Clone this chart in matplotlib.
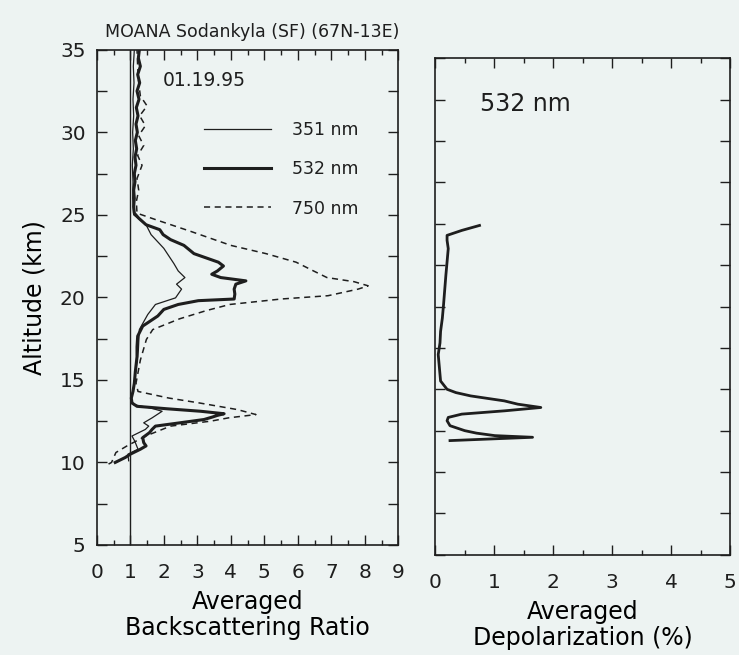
import matplotlib
matplotlib.use("Agg")
import matplotlib.pyplot as plt
from matplotlib.ticker import MultipleLocator

# altitude (km) / backscattering ratio
alt_351 = [10.1, 10.5, 10.8, 11.3, 11.6, 11.8, 12.0, 12.2, 12.4, 12.7, 13.1, 13.3, 13.5, 13.8,
           14.8, 16.8, 18.05, 18.96, 19.57, 19.97, 20.5, 20.8, 21.2, 21.6, 22.05, 22.97,
           23.8, 24.4, 25.0, 26.0, 27.0, 28.0, 29.0, 30.0, 31.0, 32.0, 33.0, 34.0, 35.0]
bsr_351 = [0.95, 0.93, 1.23, 1.13, 1.05, 1.25, 1.45, 1.55, 1.40, 1.65, 1.95, 1.60, 1.10, 1.03,
           1.12, 1.24, 1.27, 1.52, 1.75, 2.35, 2.53, 2.38, 2.63, 2.43, 2.30, 2.00,
           1.62, 1.47, 1.10, 1.07, 1.08, 1.06, 1.09, 1.07, 1.10, 1.08, 1.11, 1.09, 1.12]

alt_532 = [10.0, 10.3, 10.5, 10.8, 11.0, 11.2, 11.5, 11.8, 12.0, 12.2, 12.4, 12.6, 12.75,
           12.85, 12.95, 13.1, 13.25, 13.4, 13.6, 13.9, 14.3, 14.8, 15.5, 16.4, 17.0, 17.65,
           18.26, 18.87, 19.27, 19.57, 19.8, 19.9, 20.2, 20.5, 20.8, 21.0, 21.2, 21.4, 21.6,
           21.9, 22.13, 22.65, 23.15, 23.5, 23.8, 24.1, 24.4, 24.8, 25.1, 25.5, 26.0, 26.5,
           27.0, 27.5, 28.0, 28.5, 29.0, 29.5, 30.0, 30.5, 31.0, 31.5, 32.0, 32.5, 33.0,
           33.5, 34.0, 34.5, 35.0]
bsr_532 = [0.55, 0.85, 1.00, 1.30, 1.47, 1.40, 1.37, 1.57, 1.65, 1.75, 2.48, 3.20, 3.45,
           3.60, 3.80, 3.10, 2.10, 1.20, 1.05, 1.03, 1.08, 1.12, 1.15, 1.20, 1.20, 1.22,
           1.37, 1.82, 2.00, 2.43, 3.03, 4.10, 4.12, 4.10, 4.15, 4.45, 3.70, 3.43, 3.60,
           3.78, 3.63, 2.90, 2.60, 2.20, 1.98, 1.88, 1.47, 1.25, 1.12, 1.10, 1.12, 1.10,
           1.14, 1.12, 1.17, 1.14, 1.19, 1.15, 1.21, 1.17, 1.23, 1.18, 1.26, 1.20, 1.28,
           1.22, 1.30, 1.24, 1.27]

alt_750 = [9.9, 10.0, 10.6, 11.0, 11.6, 12.2, 12.5, 12.7, 12.9, 13.2, 13.6, 13.9, 14.3,
           14.8, 16.2, 17.45, 18.05, 18.7, 19.2, 19.57, 19.9, 20.1, 20.5, 20.7, 20.95,
           21.2, 21.6, 22.13, 22.65, 23.15, 24.0, 24.7, 25.1, 25.8, 26.5, 27.2, 28.0,
           28.6, 29.2, 29.8, 30.4, 31.0, 31.6, 32.2, 33.0, 34.0, 35.0]
bsr_750 = [0.35, 0.44, 0.57, 0.90, 1.46, 2.20, 3.40, 3.93, 4.75, 4.20, 3.07, 2.15, 1.23,
           1.17, 1.30, 1.48, 1.67, 2.47, 3.27, 3.97, 5.50, 6.90, 7.80, 8.10, 7.68,
           6.87, 6.47, 5.95, 5.05, 4.00, 2.80, 1.77, 1.20, 1.18, 1.25, 1.20, 1.35,
           1.22, 1.40, 1.25, 1.45, 1.28, 1.50, 1.30, 1.25, 1.22, 1.20]

# altitude (km) / depolarization (%) at 532 nm
alt_dep = [11.9, 12.0, 12.1, 12.2, 12.35, 12.5, 12.8, 13.1, 13.3, 13.5, 13.7, 13.9, 14.1,
           14.3, 14.6, 14.8, 15.0, 15.5, 16.3, 17.1, 17.8, 18.5, 19.3, 20.1, 21.0, 21.9,
           22.7, 23.5, 24.0, 24.3, 24.6, 24.9]
dep_532 = [0.25, 0.95, 1.65, 1.01, 0.70, 0.50, 0.25, 0.20, 0.22, 0.45, 1.18, 1.79, 1.40,
           1.17, 0.60, 0.35, 0.20, 0.09, 0.07, 0.05, 0.08, 0.09, 0.12, 0.14, 0.16, 0.18,
           0.20, 0.22, 0.20, 0.20, 0.45, 0.75]

bg = '#edf3f2'
ink = '#1e1e1e'

plt.rcParams['font.family'] = ['DejaVu Sans']
plt.rcParams['text.color'] = ink

fig = plt.figure(figsize=(7.39, 6.55), dpi=100, facecolor=bg)
ax1 = fig.add_axes([0.131, 0.168, 0.408, 0.756], facecolor=bg)
ax2 = fig.add_axes([0.589, 0.153, 0.399, 0.758], facecolor=bg)

# --- left: backscattering ratio ---
ax1.axvline(1, color=ink, lw=1.0)
ax1.plot(bsr_351, alt_351, color=ink, lw=0.9, label='351 nm')
ax1.plot(bsr_532, alt_532, color=ink, lw=2.2, label='532 nm')
ax1.plot(bsr_750, alt_750, color=ink, lw=1.1, ls=(0, (4, 3)), label='750 nm')
ax1.set_xlim(0, 9)
ax1.set_ylim(5, 35)
ax1.xaxis.set_major_locator(MultipleLocator(1))
ax1.xaxis.set_minor_locator(MultipleLocator(0.5))
ax1.yaxis.set_major_locator(MultipleLocator(5))
ax1.yaxis.set_minor_locator(MultipleLocator(2.5))
ax1.set_xlabel('Averaged\nBackscattering Ratio', fontsize=17, labelpad=6, linespacing=1.1)
ax1.set_ylabel('Altitude (km)', fontsize=17, labelpad=10)
ax1.text(0.22, 0.937, '01.19.95', transform=ax1.transAxes, fontsize=13.5, va='center')
ax1.legend(loc='upper left', bbox_to_anchor=(0.305, 0.888), frameon=False, fontsize=12.5,
           handlelength=3.85, handletextpad=1.2, labelspacing=1.23)

# --- right: depolarization ---
ax2.plot(dep_532, alt_dep, color=ink, lw=2.0)
ax2.set_xlim(0, 5)
ax2.set_ylim(5, 35)
ax2.xaxis.set_major_locator(MultipleLocator(1))
ax2.xaxis.set_minor_locator(MultipleLocator(0.5))
ax2.yaxis.set_major_locator(MultipleLocator(5))
ax2.yaxis.set_minor_locator(MultipleLocator(2.5))
ax2.set_yticklabels([])
ax2.set_xlabel('Averaged\nDepolarization (%)', fontsize=17, labelpad=6, linespacing=1.1)
ax2.text(0.15, 0.908, '532 nm', transform=ax2.transAxes, fontsize=17, va='center')

for ax in (ax1, ax2):
    for s in ax.spines.values():
        s.set_color(ink)
        s.set_linewidth(1.2)
    ax.tick_params(which='both', direction='in', top=True, right=True, colors=ink,
                   labelsize=14.5, width=1.0)
    ax.tick_params(axis='x', which='major', length=7, pad=13)
    ax.tick_params(axis='x', which='minor', length=3.5)
    ax.tick_params(axis='y', which='both', length=7, pad=8)

fig.text(0.142, 0.951, 'MOANA Sodankyla (SF) (67N-13E)', fontsize=12.5, va='center')

fig.savefig('out.png', dpi=100, facecolor=bg)
